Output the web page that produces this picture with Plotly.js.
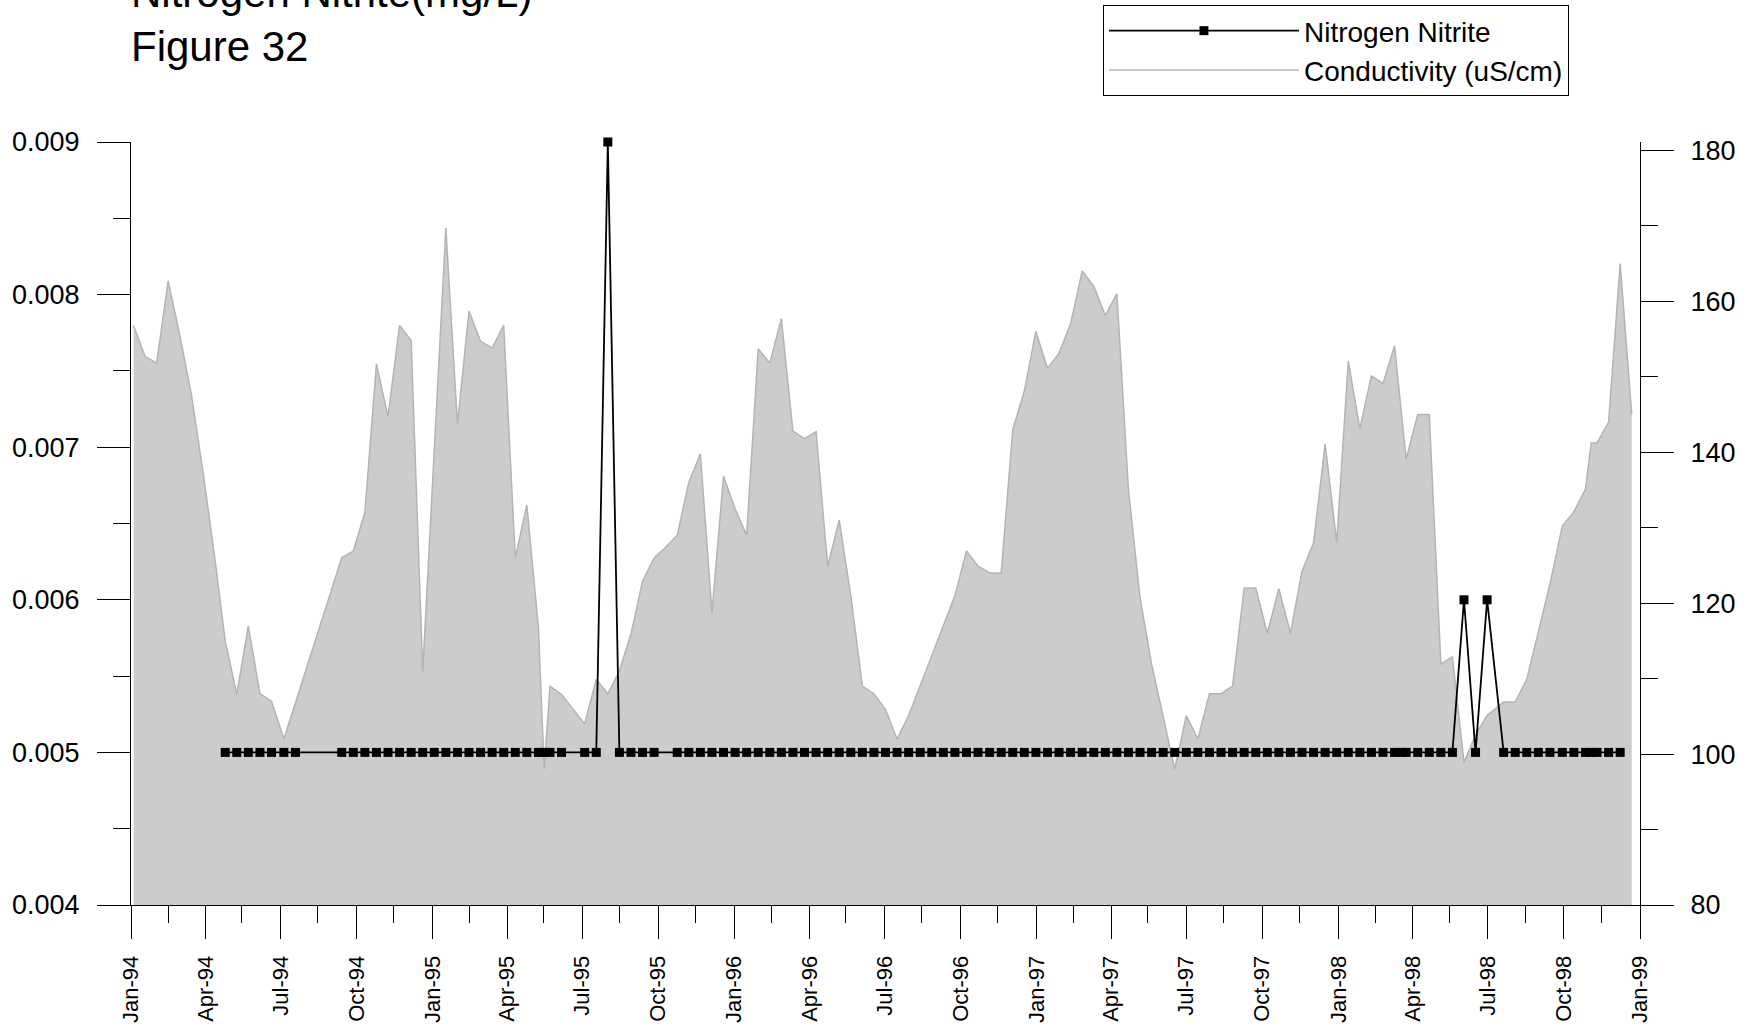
<!DOCTYPE html>
<html>
<head>
<meta charset="utf-8">
<script src="https://cdn.plot.ly/plotly-3.0.1.min.js"></script>
<style>html,body{margin:0;padding:0;background:#fff;}#chart{width:1758px;height:1029px;}</style>
</head>
<body>
<div id="chart"></div>
<script>
// Conductivity (uS/cm) samples
const condDates = [
 '1994-01-04','1994-01-18','1994-02-01','1994-02-15','1994-03-01','1994-03-15','1994-03-29','1994-04-12','1994-04-25','1994-05-09',
 '1994-05-23','1994-06-06','1994-06-20','1994-07-05','1994-09-13','1994-09-27','1994-10-11','1994-10-25','1994-11-08','1994-11-22',
 '1994-12-06','1994-12-20','1995-01-17','1995-01-31','1995-02-14','1995-02-28','1995-03-14','1995-03-28','1995-04-11','1995-04-25',
 '1995-05-09','1995-05-16','1995-05-23','1995-06-06','1995-07-04','1995-07-18','1995-08-01','1995-08-15','1995-08-29','1995-09-12',
 '1995-09-26','1995-10-10','1995-10-24','1995-11-07','1995-11-21','1995-12-05','1995-12-19','1996-01-02','1996-01-16','1996-01-30',
 '1996-02-13','1996-02-27','1996-03-12','1996-03-26','1996-04-09','1996-04-23','1996-05-07','1996-05-21','1996-06-04','1996-06-18',
 '1996-07-02','1996-07-16','1996-07-30','1996-08-13','1996-08-27','1996-09-10','1996-09-24','1996-10-08','1996-10-22','1996-11-05',
 '1996-11-19','1996-12-03','1996-12-17','1996-12-31','1997-01-14','1997-01-28','1997-02-11','1997-02-25','1997-03-11','1997-03-25',
 '1997-04-08','1997-04-22','1997-05-06','1997-05-20','1997-06-17','1997-07-01','1997-07-15','1997-07-29','1997-08-12','1997-08-26',
 '1997-09-09','1997-09-23','1997-10-07','1997-10-21','1997-11-04','1997-11-18','1997-12-02','1997-12-16','1997-12-30','1998-01-13',
 '1998-01-27','1998-02-10','1998-02-24','1998-03-10','1998-03-24','1998-04-07','1998-04-21','1998-05-05','1998-05-19','1998-06-02',
 '1998-06-16','1998-06-30','1998-07-20','1998-08-03','1998-08-17','1998-08-31','1998-09-14','1998-09-29','1998-10-13','1998-10-27',
 '1998-11-03','1998-11-10','1998-11-24','1998-12-08','1998-12-22'
];
const condValues = [
 156.8,152.7,151.8,162.7,155.5,147.7,137.5,126.3,115.0,107.9,
 117.0,108.0,107.0,102.0,126.0,126.9,132.0,151.7,144.7,156.8,
 154.8,110.9,169.7,143.7,158.7,154.7,153.8,156.8,126.0,133.0,
 116.8,98.0,109.0,107.9,104.0,109.9,108.0,111.0,115.9,122.9,
 126.0,127.4,129.0,136.0,139.8,118.7,136.8,132.5,129.0,153.7,
 151.8,157.7,142.8,141.8,142.7,124.9,131.0,121.0,109.0,108.0,
 105.9,102.0,105.1,109.0,113.0,117.0,121.0,126.9,124.9,124.0,
 124.0,143.0,148.1,156.0,151.1,153.1,157.0,164.0,162.0,158.1,
 161.0,135.0,120.7,111.9,98.0,105.1,102.0,108.0,108.0,109.0,
 122.0,122.0,116.0,121.9,116.0,124.2,128.0,141.1,128.0,152.1,
 143.1,150.1,149.1,154.1,139.1,145.0,145.0,111.9,112.9,98.9,
 102.5,105.1,106.9,106.9,109.9,116.0,122.5,130.2,132.1,135.1,
 141.2,141.2,144.0,165.0,145.0
];

// Nitrogen Nitrite (mg/L) samples
const nitriteDates = [
 '1994-04-25','1994-05-09','1994-05-23','1994-06-06','1994-06-20','1994-07-05','1994-07-19',
 '1994-09-13','1994-09-27','1994-10-11','1994-10-25','1994-11-08','1994-11-22','1994-12-06','1994-12-20',
 '1995-01-03','1995-01-17','1995-01-31','1995-02-14','1995-02-28','1995-03-14','1995-03-28','1995-04-11','1995-04-25',
 '1995-05-09','1995-05-16','1995-05-23','1995-06-06','1995-07-04','1995-07-18','1995-08-01','1995-08-15','1995-08-29',
 '1995-09-12','1995-09-26','1995-10-24','1995-11-07','1995-11-21','1995-12-05','1995-12-19',
 '1996-01-02','1996-01-16','1996-01-30','1996-02-13','1996-02-27','1996-03-12','1996-03-26','1996-04-09','1996-04-23',
 '1996-05-07','1996-05-21','1996-06-04','1996-06-18','1996-07-02','1996-07-16','1996-07-30','1996-08-13','1996-08-27',
 '1996-09-10','1996-09-24','1996-10-08','1996-10-22','1996-11-05','1996-11-19','1996-12-03','1996-12-17','1996-12-31',
 '1997-01-14','1997-01-28','1997-02-11','1997-02-25','1997-03-11','1997-03-25','1997-04-08','1997-04-22','1997-05-06',
 '1997-05-20','1997-06-03','1997-06-17','1997-07-01','1997-07-15','1997-07-29','1997-08-12','1997-08-26','1997-09-09',
 '1997-09-23','1997-10-07','1997-10-21','1997-11-04','1997-11-18','1997-12-02','1997-12-16','1997-12-30',
 '1998-01-13','1998-01-27','1998-02-10','1998-02-24','1998-03-10','1998-03-17','1998-03-24','1998-04-07','1998-04-21',
 '1998-05-05','1998-05-19','1998-06-02','1998-06-16','1998-06-30','1998-07-20','1998-08-03','1998-08-17','1998-08-31',
 '1998-09-14','1998-09-29','1998-10-13','1998-10-27','1998-11-03','1998-11-10','1998-11-24','1998-12-08'
];
const nitriteValues = [
 0.005,0.005,0.005,0.005,0.005,0.005,0.005,
 0.005,0.005,0.005,0.005,0.005,0.005,0.005,0.005,
 0.005,0.005,0.005,0.005,0.005,0.005,0.005,0.005,0.005,
 0.005,0.005,0.005,0.005,0.005,0.005,0.009,0.005,0.005,
 0.005,0.005,0.005,0.005,0.005,0.005,0.005,
 0.005,0.005,0.005,0.005,0.005,0.005,0.005,0.005,0.005,
 0.005,0.005,0.005,0.005,0.005,0.005,0.005,0.005,0.005,
 0.005,0.005,0.005,0.005,0.005,0.005,0.005,0.005,0.005,
 0.005,0.005,0.005,0.005,0.005,0.005,0.005,0.005,0.005,
 0.005,0.005,0.005,0.005,0.005,0.005,0.005,0.005,0.005,
 0.005,0.005,0.005,0.005,0.005,0.005,0.005,0.005,
 0.005,0.005,0.005,0.005,0.005,0.005,0.005,0.005,0.005,
 0.005,0.005,0.006,0.005,0.006,0.005,0.005,0.005,0.005,
 0.005,0.005,0.005,0.005,0.005,0.005,0.005,0.005
];

const titleText = 'Nitrogen Nitrite(mg/L)<br>Figure 32';
const nitriteName = 'Nitrogen Nitrite';
const condName = 'Conductivity (uS/cm)';

const FONT = 'Liberation Sans, Arial, Helvetica, sans-serif';

const traces = [
  {
    x: condDates, y: condValues, yaxis: 'y', type: 'scatter', mode: 'lines',
    fill: 'tozeroy', fillcolor: '#cccccc', line: {width: 0, color: '#cccccc'},
    showlegend: false, hoverinfo: 'skip', name: condName + ' area'
  },
  {
    x: condDates, y: condValues, yaxis: 'y', type: 'scatter', mode: 'lines',
    line: {width: 1.5, color: '#b4b4b4'},
    name: condName, legendrank: 2
  },
  {
    x: nitriteDates, y: nitriteValues, yaxis: 'y2', type: 'scatter', mode: 'lines+markers',
    line: {width: 1.8, color: '#000000'},
    marker: {symbol: 'square', size: 9, color: '#000000'},
    cliponaxis: false,
    name: nitriteName, legendrank: 1
  }
];

const layout = {
  width: 1758, height: 1029,
  margin: {l: 131, r: 118, t: 142, b: 124, autoexpand: false},
  paper_bgcolor: '#ffffff', plot_bgcolor: '#ffffff',
  font: {family: FONT, color: '#000000', size: 27},
  title: {
    text: titleText,
    font: {family: FONT, size: 42, color: '#000000'},
    xref: 'container', yref: 'container',
    x: 131/1758, xanchor: 'left',
    y: 0.9935, yanchor: 'bottom'
  },
  showlegend: true,
  legend: {
    x: 0.6441, y: 1.1796, xanchor: 'left', yanchor: 'top',
    bordercolor: '#000000', borderwidth: 1, bgcolor: '#ffffff',
    font: {family: FONT, size: 28, color: '#000000'},
    itemwidth: 190, traceorder: 'normal'
  },
  xaxis: {
    type: 'date', range: ['1994-01-01', '1999-01-01'],
    tick0: '1994-01-01', dtick: 'M3', tickformat: '%b-%y', tickangle: -90,
    ticks: 'outside', ticklen: 33, tickwidth: 1, tickcolor: '#000000',
    showline: true, linecolor: '#000000', linewidth: 1,
    showgrid: false, zeroline: false,
    tickfont: {family: FONT, size: 22, color: '#000000'},
    ticklabelstandoff: 8,
    minor: {tick0: '1994-02-15', dtick: 'M3', ticks: 'outside', ticklen: 17, tickwidth: 1, tickcolor: '#000000', showgrid: false}
  },
  yaxis: {
    range: [80, 181.1], side: 'right',
    tick0: 80, dtick: 20,
    ticks: 'outside', ticklen: 33, tickwidth: 1, tickcolor: '#000000',
    showline: true, linecolor: '#000000', linewidth: 1,
    showgrid: false, zeroline: false,
    tickfont: {family: FONT, size: 27, color: '#000000'},
    ticklabelstandoff: 11,
    minor: {dtick: 10, ticks: 'outside', ticklen: 17, tickwidth: 1, tickcolor: '#000000', showgrid: false}
  },
  yaxis2: {
    overlaying: 'y', side: 'left', anchor: 'x',
    range: [0.004, 0.009], tick0: 0.004, dtick: 0.001, tickformat: '.3f',
    ticks: 'outside', ticklen: 33, tickwidth: 1, tickcolor: '#000000',
    showline: true, linecolor: '#000000', linewidth: 1,
    showgrid: false, zeroline: false,
    tickfont: {family: FONT, size: 27, color: '#000000'},
    ticklabelstandoff: 12,
    minor: {dtick: 0.0005, ticks: 'outside', ticklen: 17, tickwidth: 1, tickcolor: '#000000', showgrid: false}
  }
};

Plotly.newPlot('chart', traces, layout, {staticPlot: true, displayModeBar: false});
</script>
</body>
</html>
